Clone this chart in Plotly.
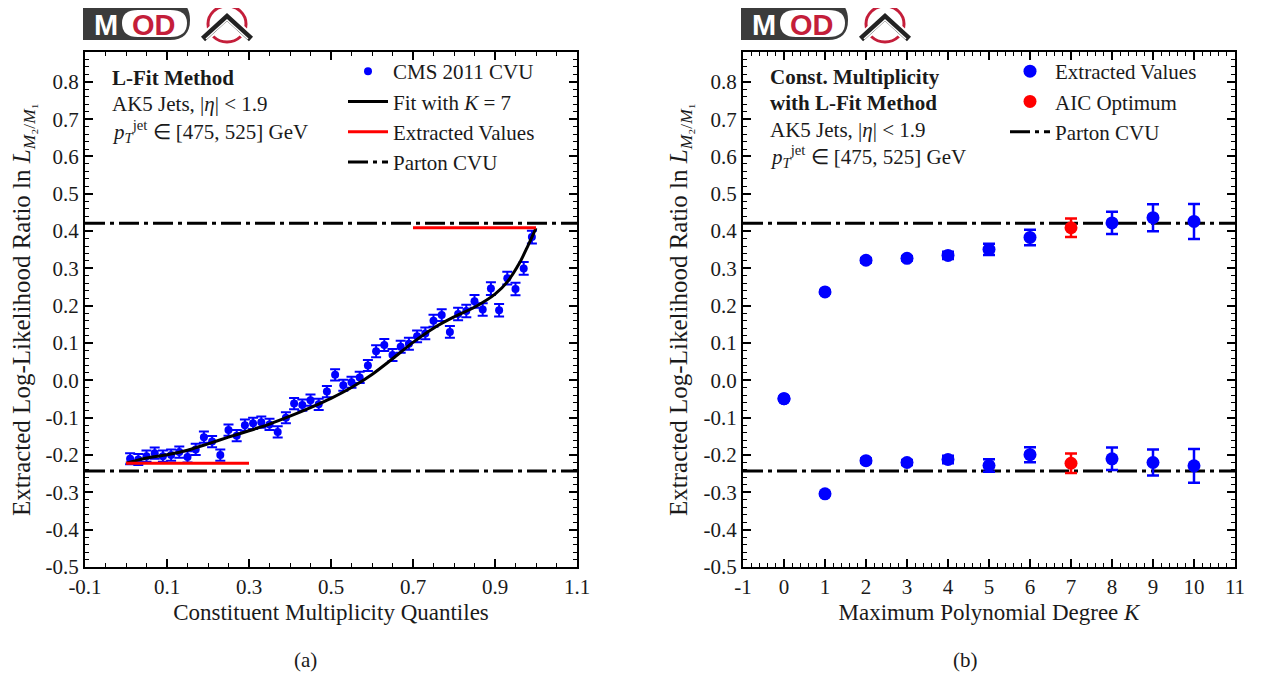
import plotly.graph_objects as go
from plotly.subplots import make_subplots

# ---------------- data: panel (a) ----------------
quantiles = [0.01, 0.03, 0.05, 0.07, 0.09, 0.11, 0.13, 0.15, 0.17, 0.19,
             0.21, 0.23, 0.25, 0.27, 0.29, 0.31, 0.33, 0.35, 0.37, 0.39,
             0.41, 0.43, 0.45, 0.47, 0.49, 0.51, 0.53, 0.55, 0.57, 0.59,
             0.61, 0.63, 0.65, 0.67, 0.69, 0.71, 0.73, 0.75, 0.77, 0.79,
             0.81, 0.83, 0.85, 0.87, 0.89, 0.91, 0.93, 0.95, 0.97, 0.99]
cms_cvu = [-0.210, -0.212, -0.203, -0.195, -0.203, -0.200, -0.192, -0.205, -0.185, -0.152,
           -0.164, -0.200, -0.133, -0.148, -0.120, -0.115, -0.112, -0.118, -0.138, -0.100,
           -0.062, -0.066, -0.053, -0.064, -0.030, 0.015, -0.013, -0.005, 0.008, 0.040,
           0.078, 0.095, 0.068, 0.090, 0.098, 0.118, 0.126, 0.160, 0.175, 0.130,
           0.178, 0.186, 0.212, 0.190, 0.246, 0.188, 0.274, 0.245, 0.300, 0.384]
cms_err = [0.015, 0.015, 0.015, 0.015, 0.015, 0.015, 0.015, 0.015, 0.015, 0.015,
           0.015, 0.015, 0.015, 0.015, 0.015, 0.015, 0.015, 0.015, 0.015, 0.015,
           0.015, 0.015, 0.015, 0.015, 0.015, 0.015, 0.015, 0.015, 0.015, 0.015,
           0.016, 0.016, 0.016, 0.016, 0.016, 0.016, 0.016, 0.016, 0.016, 0.016,
           0.017, 0.017, 0.017, 0.017, 0.017, 0.017, 0.017, 0.017, 0.017, 0.017]

# K = 7 fit curve
fit_x = [0.0, 0.05, 0.1, 0.15, 0.2, 0.25, 0.3, 0.35, 0.4, 0.45, 0.5, 0.55,
         0.6, 0.65, 0.7, 0.75, 0.8, 0.85, 0.9, 0.93, 0.96, 0.98, 1.0]
fit_y = [-0.222, -0.208, -0.199, -0.187, -0.170, -0.152, -0.135, -0.117, -0.096, -0.073,
         -0.048, -0.019, 0.016, 0.058, 0.102, 0.140, 0.170, 0.196, 0.231, 0.264,
         0.315, 0.360, 0.408]

# ---------------- data: panel (b) ----------------
degrees = [0, 1, 2, 3, 4, 5, 6, 8, 9, 10]
upper_vals = [-0.049, 0.237, 0.322, 0.327, 0.335, 0.351, 0.383, 0.422, 0.436, 0.426]
upper_err = [0.003, 0.004, 0.006, 0.006, 0.010, 0.015, 0.021, 0.030, 0.036, 0.047]
lower_vals = [-0.049, -0.304, -0.215, -0.220, -0.212, -0.228, -0.199, -0.210, -0.220, -0.229]
lower_err = [0.003, 0.004, 0.006, 0.007, 0.010, 0.017, 0.020, 0.030, 0.035, 0.045]

aic_degree = 7
aic_vals = [0.409, -0.222]
aic_err = [0.025, 0.026]

parton_cvu = [0.421, -0.243]

# ---------------- tick labels ----------------
xa_ticks = [-0.1, 0.1, 0.3, 0.5, 0.7, 0.9, 1.1]
xa_labels = ["-0.1", "0.1", "0.3", "0.5", "0.7", "0.9", "1.1"]
xb_ticks = [-1, 0, 1, 2, 3, 4, 5, 6, 7, 8, 9, 10, 11]
xb_labels = ["-1", "0", "1", "2", "3", "4", "5", "6", "7", "8", "9", "10", "11"]
y_ticks = [-0.5, -0.4, -0.3, -0.2, -0.1, 0.0, 0.1, 0.2, 0.3, 0.4, 0.5, 0.6, 0.7, 0.8]
y_labels = ["-0.5", "-0.4", "-0.3", "-0.2", "-0.1", "0.0", "0.1", "0.2",
            "0.3", "0.4", "0.5", "0.6", "0.7", "0.8"]

xa_range = [-0.1, 1.1]
xb_range = [-1, 11]
y_range = [-0.5, 0.88]

W, H = 1270, 677
PAGE_OFF = 8  # default body margin of the html page
FONT = "Liberation Serif"
INK = "#1a1a1a"
BLUE = "#0000ff"
RED = "#ff0000"
LOGO_RED = "#c41e3a"
DASHDOT = "20px,5px,4px,5px"


def px(x):
    return (x - PAGE_OFF) / W


def py(y):
    return 1 - (y - PAGE_OFF) / H


fig = make_subplots(rows=1, cols=2)

# panel (a)
fig.add_trace(go.Scatter(
    x=quantiles, y=cms_cvu, mode="markers", name="CMS 2011 CVU",
    marker=dict(color=BLUE, size=8),
    error_y=dict(type="data", array=cms_err, color=BLUE, thickness=2, width=5),
    legend="legend"), row=1, col=1)
fig.add_trace(go.Scatter(
    x=fit_x, y=fit_y, mode="lines", name="Fit with <i>K</i> = 7",
    line=dict(color="black", width=3, shape="spline", smoothing=0.8), legend="legend"), row=1, col=1)
ext_x = [0.0, 0.3, None, 0.7, 1.0]
ext_y = [aic_vals[1], aic_vals[1], None, aic_vals[0], aic_vals[0]]
fig.add_trace(go.Scatter(
    x=ext_x, y=ext_y, mode="lines", name="Extracted Values",
    line=dict(color=RED, width=3), legend="legend"), row=1, col=1)
fig.add_trace(go.Scatter(
    x=[xa_range[0], xa_range[1], None, xa_range[0], xa_range[1]],
    y=[parton_cvu[0], parton_cvu[0], None, parton_cvu[1], parton_cvu[1]],
    mode="lines", name="Parton CVU",
    line=dict(color="black", width=3, dash=DASHDOT), legend="legend"), row=1, col=1)

# panel (b)
fig.add_trace(go.Scatter(
    x=[xb_range[0], xb_range[1], None, xb_range[0], xb_range[1]],
    y=[parton_cvu[0], parton_cvu[0], None, parton_cvu[1], parton_cvu[1]],
    mode="lines", name="Parton CVU",
    line=dict(color="black", width=3, dash=DASHDOT), legend="legend2",
    legendrank=3), row=1, col=2)
fig.add_trace(go.Scatter(
    x=degrees + degrees, y=upper_vals + lower_vals, mode="markers",
    name="Extracted Values", marker=dict(color=BLUE, size=13),
    error_y=dict(type="data", array=upper_err + lower_err, color=BLUE, thickness=2.5, width=6),
    legend="legend2", legendrank=1), row=1, col=2)
fig.add_trace(go.Scatter(
    x=[aic_degree, aic_degree], y=aic_vals, mode="markers", name="AIC Optimum",
    marker=dict(color=RED, size=13),
    error_y=dict(type="data", array=aic_err, color=RED, thickness=2.5, width=6),
    legend="legend2", legendrank=2), row=1, col=2)

axis_common = dict(
    showline=True, linecolor="black", linewidth=2, mirror="allticks",
    ticks="inside", ticklen=8, tickwidth=1.5, tickcolor="black",
    showgrid=False, zeroline=False, automargin=False,
    tickfont=dict(family=FONT, size=21, color=INK),
)

fig.update_xaxes(axis_common)
fig.update_yaxes(axis_common)

fig.update_xaxes(range=xa_range, tickmode="array", tickvals=xa_ticks, ticktext=xa_labels,
                 domain=[px(85), px(577)],
                 minor=dict(dtick=0.05, tick0=-0.1, ticks="inside", ticklen=4, tickcolor="black", tickwidth=1),
                 title=dict(text="Constituent Multiplicity Quantiles", standoff=6,
                            font=dict(family=FONT, size=23, color=INK)),
                 row=1, col=1)
fig.update_xaxes(range=xb_range, tickmode="array", tickvals=xb_ticks, ticktext=xb_labels,
                 domain=[px(743), px(1235)],
                 minor=dict(dtick=0.2, tick0=-1, ticks="inside", ticklen=4, tickcolor="black", tickwidth=1),
                 title=dict(text="Maximum Polynomial Degree <i>K</i>", standoff=6,
                            font=dict(family=FONT, size=23, color=INK)),
                 row=1, col=2)
ytitle = "Extracted Log-Likelihood Ratio ln <i>L</i><sub><i>M</i>₂/<i>M</i>₁</sub>"
for c in (1, 2):
    fig.update_yaxes(range=y_range, tickmode="array", tickvals=y_ticks, ticktext=y_labels,
                     domain=[py(567), py(52)],
                     minor=dict(dtick=0.02, tick0=-0.5, ticks="inside", ticklen=4, tickcolor="black", tickwidth=1),
                     title=dict(text=ytitle, standoff=9, font=dict(family=FONT, size=25, color=INK)),
                     row=1, col=c)

legend_style = dict(font=dict(family=FONT, size=21, color=INK), bgcolor="rgba(0,0,0,0)",
                    xanchor="left", yanchor="top", tracegroupgap=0, itemwidth=40)
fig.update_layout(
    width=W, height=H, margin=dict(l=0, r=0, t=0, b=0, autoexpand=False),
    plot_bgcolor="white", paper_bgcolor="white",
    font=dict(family=FONT, color=INK),
    legend=dict(x=px(343), y=py(51), **legend_style),
    legend2=dict(x=px(1005), y=py(51), **legend_style),
)

# info text boxes
def info(x0, lines, y0=78, step=26.5):
    for i, t in enumerate(lines):
        fig.add_annotation(x=px(x0), y=py(y0 + i * step), xref="paper", yref="paper",
                           text=t, showarrow=False, xanchor="left", yanchor="middle",
                           font=dict(family=FONT, size=21, color=INK))

pt_text = "<i>p</i><sub><i>T</i></sub><sup>jet</sup> ∈ [475, 525] GeV"
info(110, ["<b>L-Fit Method</b>", "AK5 Jets, |<i>η</i>| &lt; 1.9", pt_text])
info(768, ["<b>Const. Multiplicity</b>", "<b>with L-Fit Method</b>",
           "AK5 Jets, |<i>η</i>| &lt; 1.9", pt_text], y0=77)

for label, xc in (("(a)", 305), ("(b)", 965)):
    fig.add_annotation(x=px(xc), y=py(660), xref="paper", yref="paper", text=label,
                       showarrow=False, xanchor="center", yanchor="middle",
                       font=dict(family=FONT, size=21, color=INK))

# MOD logos
def logo(dx):
    x0, x1 = 83 + dx, 190 + dx
    fig.add_shape(type="path", xref="paper", yref="paper",
                  path=f"M{px(x0)},{py(0)} L{px(x1-20)},{py(0)} "
                       f"Q{px(x1)},{py(0)} {px(x1)},{py(20)} "
                       f"Q{px(x1)},{py(40)} {px(x1-20)},{py(40)} "
                       f"L{px(x0)},{py(40)} Z",
                  fillcolor="#3b3b3b", line=dict(width=0))
    fig.add_shape(type="path", xref="paper", yref="paper",
                  path=f"M{px(138+dx)},{py(10)} L{px(170+dx)},{py(10)} "
                       f"Q{px(187+dx)},{py(10)} {px(187+dx)},{py(23)} "
                       f"Q{px(187+dx)},{py(37)} {px(170+dx)},{py(37)} "
                       f"L{px(138+dx)},{py(37)} "
                       f"Q{px(122+dx)},{py(37)} {px(122+dx)},{py(23)} "
                       f"Q{px(122+dx)},{py(10)} {px(138+dx)},{py(10)} Z",
                  fillcolor="white", line=dict(width=0))
    fig.add_annotation(x=px(106 + dx), y=py(25), xref="paper", yref="paper", text="<b>M</b>",
                       showarrow=False, xanchor="center", yanchor="middle",
                       font=dict(family="Liberation Sans", size=29, color="white"))
    fig.add_annotation(x=px(154 + dx), y=py(25), xref="paper", yref="paper", text="<b>OD</b>",
                       showarrow=False, xanchor="center", yanchor="middle",
                       font=dict(family="Liberation Sans", size=29, color=LOGO_RED))
    fig.add_shape(type="circle", xref="paper", yref="paper",
                  x0=px(208 + dx), x1=px(246 + dx), y0=py(42), y1=py(6),
                  line=dict(color=LOGO_RED, width=3))
    fig.add_shape(type="path", xref="paper", yref="paper",
                  path=f"M{px(203+dx)},{py(39)} L{px(227+dx)},{py(17)} L{px(251+dx)},{py(39)}",
                  line=dict(color="white", width=10))
    fig.add_shape(type="path", xref="paper", yref="paper",
                  path=f"M{px(203+dx)},{py(39)} L{px(227+dx)},{py(17)} L{px(251+dx)},{py(39)}",
                  line=dict(color="#222", width=6))
    fig.add_shape(type="path", xref="paper", yref="paper",
                  path=f"M{px(206+dx)},{py(39)} L{px(227+dx)},{py(20)} L{px(248+dx)},{py(39)}",
                  line=dict(color="white", width=1.5))

logo(0)
logo(658)

fig.write_html("out.html")
